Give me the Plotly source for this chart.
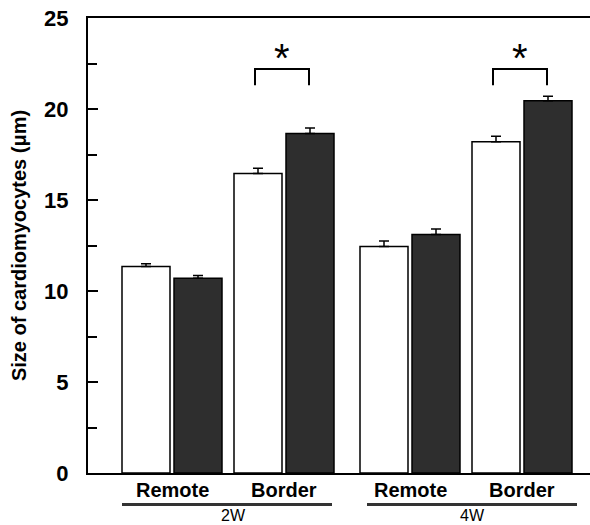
import plotly.graph_objects as go

# ---- data ----
groups = ["Remote", "Border", "Remote", "Border"]
periods = ["2W", "4W"]
white_vals = [11.35, 16.45, 12.45, 18.2]
white_err = [0.15, 0.3, 0.3, 0.3]
black_vals = [10.7, 18.65, 13.1, 20.45]
black_err = [0.15, 0.3, 0.3, 0.25]
y_ticks = [0, 5, 10, 15, 20, 25]

# ---- layout constants (axis units) ----
group_x = [84, 196, 322, 434]
offset = 26
bar_w = 48
FONT = "Liberation Sans, Arial, Helvetica, sans-serif"

fig = go.Figure()
fig.add_trace(go.Bar(
    x=[g - offset for g in group_x], y=white_vals, width=bar_w,
    marker=dict(color="white", line=dict(color="black", width=1.5)),
    error_y=dict(type="data", symmetric=False, array=white_err,
                 arrayminus=[0] * len(white_err), color="black", thickness=1.5, width=5),
    showlegend=False, hoverinfo="skip"))
fig.add_trace(go.Bar(
    x=[g + offset for g in group_x], y=black_vals, width=bar_w,
    marker=dict(color="#2e2e2e", line=dict(color="black", width=1.5)),
    error_y=dict(type="data", symmetric=False, array=black_err,
                 arrayminus=[0] * len(black_err), color="black", thickness=1.5, width=5),
    showlegend=False, hoverinfo="skip"))

# significance brackets for Border groups
for gi in (1, 3):
    xl = group_x[gi] - 29
    xr = group_x[gi] + 25
    fig.add_trace(go.Scatter(
        x=[xl, xl, xr, xr], y=[21.3, 22.2, 22.2, 21.3], mode="lines",
        line=dict(color="black", width=2), showlegend=False, hoverinfo="skip"))
    fig.add_annotation(x=(xl + xr) / 2, y=23.35, text="*", showarrow=False,
                       font=dict(family=FONT, size=40, color="black"),
                       yanchor="middle", yshift=-10)

# category labels
for gx, name in zip(group_x, groups):
    fig.add_annotation(x=gx, xref="x", y=-0.037, yref="paper", text=name,
                       showarrow=False, yanchor="middle",
                       font=dict(family=FONT, size=20, color="black", weight="bold"))

# period underlines and labels
spans = [(34, 244), (279, 489)]
label_x = [145, 384]
for (a, b), lx, p in zip(spans, label_x, periods):
    fig.add_shape(type="line", x0=a, x1=b, xref="x", y0=-0.069, y1=-0.069, yref="paper",
                  line=dict(color="#333333", width=3))
    fig.add_annotation(x=lx, xref="x", y=-0.094, yref="paper", text=p, showarrow=False,
                       yanchor="middle", font=dict(family=FONT, size=16, color="black"))

fig.update_layout(
    width=590, height=525,
    margin=dict(l=88, r=0, t=18, b=52),
    paper_bgcolor="white", plot_bgcolor="white",
    barmode="overlay",
    font=dict(family=FONT, color="black"),
    xaxis=dict(range=[0, 502], showticklabels=False, ticks="", showgrid=False,
               zeroline=False, showline=True, linecolor="black", linewidth=2, mirror=True),
    yaxis=dict(range=[0, 25], tickvals=y_ticks, ticks="inside", ticklen=10, tickwidth=1.5,
               tickcolor="black", showgrid=False, zeroline=False, showline=True,
               linecolor="black", linewidth=2, ticklabelstandoff=13,
               tickfont=dict(family=FONT, size=22, color="black", weight="bold"),
               minor=dict(tickvals=[2.5, 7.5, 12.5, 17.5, 22.5], ticks="inside",
                          ticklen=9, tickwidth=2, tickcolor="black"),
               title=dict(text="Size of cardiomyocytes (μm)", standoff=12,
                          font=dict(family=FONT, size=20, color="black", weight="bold"))),
)

fig.write_html("out.html")
